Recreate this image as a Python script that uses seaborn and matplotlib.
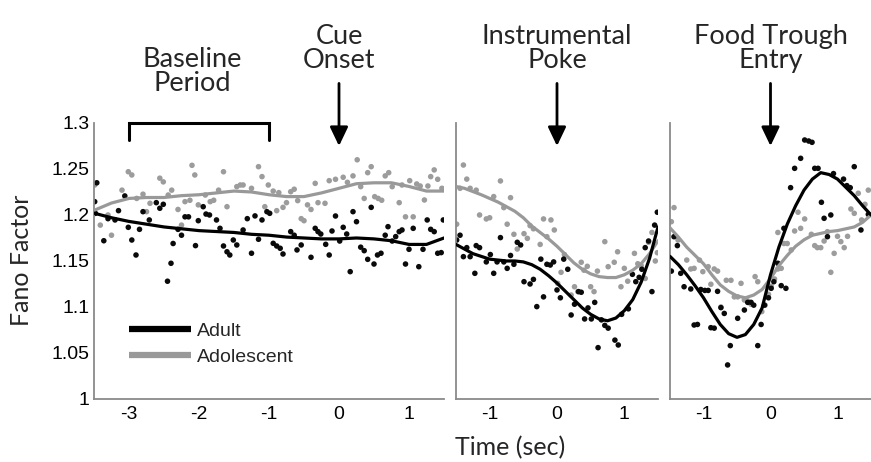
import numpy as np
import pandas as pd
import matplotlib
matplotlib.use("Agg")
import matplotlib.pyplot as plt
import seaborn as sns
from matplotlib.lines import Line2D

# ---------------- data ----------------
groups = ["Adult", "Adolescent"]
event_labels = ["Cue\nOnset", "Instrumental\nPoke", "Food Trough\nEntry"]
baseline_label = "Baseline\nPeriod"
baseline_start, baseline_end = -3.0, -1.0
yticks = [1.0, 1.05, 1.1, 1.15, 1.2, 1.25, 1.3]
ytick_labels = ["1", "1.05", "1.1", "1.15", "1.2", "1.25", "1.3"]
p1_xticks = [-3, -2, -1, 0, 1]
p23_xticks = [-1, 0, 1]

# Panel 1 (cue onset)
p1_adult_t = [-3.49, -3.46, -3.48, -3.36, -3.30, -3.20, -3.15, -3.06, -3.01, -2.96, -2.90, -2.85,
              -2.80, -2.71, -2.61, -2.56, -2.51, -2.45, -2.40, -2.37, -2.30, -2.25, -2.20, -2.15,
              -2.05, -2.01, -1.94, -1.90, -1.85, -1.75, -1.70, -1.65, -1.60, -1.56, -1.51, -1.46,
              -1.37, -1.31, -1.25, -1.20, -1.15, -1.10, -1.03, -0.99,
              -0.94, -0.89, -0.84, -0.80, -0.69, -0.64, -0.60, -0.54, -0.40, -0.34, -0.30, -0.26,
              -0.19, -0.14, -0.10, -0.05, 0.01, 0.06, 0.11, 0.16, 0.20, 0.25, 0.31, 0.36, 0.41,
              0.46, 0.50, 0.55, 0.60, 0.66, 0.70, 0.76, 0.81, 0.86, 0.90, 0.95, 1.00, 1.06, 1.14,
              1.20, 1.26, 1.31, 1.36, 1.41, 1.46, 1.49]
p1_adult_ff = [1.2145, 1.235, 1.2018, 1.172, 1.196, 1.1946, 1.2047, 1.2207, 1.1866, 1.1728, 1.1565, 1.1844,
               1.2036, 1.1946, 1.2134, 1.2073, 1.2116, 1.128, 1.1475, 1.169, 1.1844, 1.178, 1.198, 1.198,
               1.1667, 1.1938, 1.209, 1.201, 1.200, 1.1946, 1.1855, 1.1663, 1.160, 1.1565, 1.1728, 1.1674,
               1.1837, 1.196, 1.1584, 1.199, 1.1736, 1.1946, 1.2036, 1.2018,
               1.1692, 1.1663, 1.1638, 1.1576, 1.1819, 1.178, 1.162, 1.1674, 1.154, 1.1855, 1.1819, 1.1793,
               1.1681, 1.1565, 1.1826, 1.1989, 1.1717, 1.1866, 1.1793, 1.1384, 1.2036, 1.1927, 1.165, 1.1612, 1.1518,
               1.2083, 1.1467, 1.1565, 1.1584, 1.178, 1.1873, 1.1717, 1.1765, 1.1819, 1.1837, 1.1467, 1.1627, 1.1855, 1.1438,
               1.1627, 1.1946, 1.1844, 1.1819, 1.1584, 1.1591, 1.1946]
p1_adol_t = [-3.49, -3.41, -3.30, -3.25, -3.10, -3.01, -2.96, -2.89, -2.80, -2.75, -2.70, -2.56,
             -2.51, -2.44, -2.39, -2.30, -2.25, -2.20, -2.13, -2.10, -2.06, -2.01, -1.91, -1.84,
             -1.79, -1.72, -1.65, -1.60, -1.46, -1.41, -1.37, -1.25, -1.15, -1.10, -1.06,
             -1.01, -0.94, -0.86, -0.89, -0.80, -0.75, -0.69, -0.64, -0.59, -0.54, -0.50, -0.45,
             -0.40, -0.34, -0.30, -0.20, -0.14, -0.05, 0.06, 0.12, 0.20, 0.26, 0.31, 0.36, 0.41,
             0.46, 0.51, 0.56, 0.61, 0.66, 0.71, 0.76, 0.86, 0.90, 0.95, 1.01, 1.06, 1.11, 1.16,
             1.22, 1.27, 1.31, 1.36, 1.41, 1.47, 1.49]
p1_adol_ff = [1.2326, 1.189, 1.200, 1.178, 1.227, 1.247, 1.2435, 1.218, 1.2226, 1.2036, 1.2127, 1.240,
              1.236, 1.2217, 1.227, 1.206, 1.189, 1.2145, 1.216, 1.254, 1.2435, 1.211, 1.2217, 1.2145,
              1.216, 1.227, 1.247, 1.209, 1.2308, 1.2326, 1.2326, 1.229, 1.2525, 1.2417, 1.209,
              1.2326, 1.226, 1.2243, 1.2047, 1.2083, 1.2134, 1.2253, 1.228, 1.2156, 1.196, 1.1938, 1.211,
              1.206, 1.2344, 1.2134, 1.2127, 1.2373, 1.2388, 1.241, 1.2355, 1.2425, 1.260, 1.2308, 1.218, 1.246,
              1.2525, 1.2199, 1.218, 1.216, 1.2425, 1.246, 1.2308, 1.2134, 1.2326, 1.198, 1.2373, 1.198, 1.2337, 1.2315,
              1.2163, 1.2315, 1.2417, 1.249, 1.2388, 1.229, 1.228]
p1_fit_t = [-3.5, -3.25, -3.0, -2.75, -2.5, -2.25, -2.0, -1.75, -1.5, -1.25, -1.0,
            -0.75, -0.5, -0.25, 0.0, 0.25, 0.5, 0.75, 1.0, 1.25, 1.5]
p1_adult_fit = [1.202, 1.197, 1.193, 1.190, 1.187, 1.185, 1.183, 1.182, 1.181, 1.179, 1.178,
                1.176, 1.175, 1.174, 1.174, 1.175, 1.174, 1.172, 1.168, 1.168, 1.175]
p1_adol_fit = [1.205, 1.213, 1.218, 1.219, 1.219, 1.221, 1.222, 1.224, 1.226, 1.225, 1.222,
               1.220, 1.220, 1.224, 1.229, 1.234, 1.235, 1.235, 1.231, 1.226, 1.226]

# Panel 2 (instrumental poke)
p2_adult_t = [-1.49, -1.44, -1.39, -1.34, -1.29, -1.22, -1.20, -1.15, -1.05, -0.99, -0.94, -0.89,
              -0.84, -0.79, -0.74, -0.69, -0.64, -0.59, -0.54, -0.49, -0.40, -0.35, -0.30, -0.24,
              -0.20, -0.15, -0.10, -0.05, 0.00, 0.05, 0.10, 0.16, 0.21, 0.26, 0.32, 0.36, 0.41,
              0.46, 0.51, 0.56, 0.61, 0.66, 0.71, 0.76, 0.86, 0.91, 0.96, 1.06, 1.12, 1.17, 1.22,
              1.26, 1.31, 1.36, 1.41, 1.45, 1.49]
p2_adult_ff = [1.1728, 1.178, 1.1547, 1.1645, 1.1547, 1.1366, 1.1667, 1.1645, 1.149, 1.157, 1.1366, 1.149,
               1.1754, 1.149, 1.142, 1.156, 1.1464, 1.1703, 1.1674, 1.1275, 1.125, 1.130, 1.1004, 1.152,
               1.111, 1.1464, 1.1456, 1.149, 1.1185, 1.110, 1.152, 1.141, 1.0913, 1.103, 1.1167, 1.116, 1.087,
               1.099, 1.087, 1.105, 1.0558, 1.086, 1.080, 1.077, 1.064, 1.0587, 1.092, 1.098, 1.1355, 1.1275, 1.1322,
               1.141, 1.1645, 1.1717, 1.1167, 1.189, 1.203]
p2_adol_t = [-1.49, -1.44, -1.39, -1.34, -1.29, -1.20, -1.15, -1.05, -1.00, -0.94, -0.84, -0.79,
             -0.74, -0.69, -0.64, -0.59, -0.49, -0.44, -0.40, -0.35, -0.25, -0.20, -0.15, -0.09,
             -0.04, 0.01, 0.06, 0.11, 0.21, 0.26, 0.31, 0.36, 0.40, 0.45, 0.50, 0.55, 0.60, 0.71,
             0.76, 0.85, 0.90, 0.95, 1.00, 1.05, 1.15, 1.20, 1.25, 1.31, 1.36, 1.41, 1.46, 1.49]
p2_adol_ff = [1.19, 1.229, 1.2543, 1.239, 1.229, 1.227, 1.200, 1.1957, 1.197, 1.22, 1.237, 1.208,
              1.19, 1.2188, 1.179, 1.163, 1.1797, 1.1746, 1.1884, 1.185, 1.168, 1.1957, 1.1764, 1.1946,
              1.1837, 1.1257, 1.1377, 1.157, 1.113, 1.122, 1.1167, 1.1486, 1.140, 1.1442, 1.122, 1.1167, 1.139, 1.171,
              1.1438, 1.1486, 1.160, 1.122, 1.142, 1.128, 1.1583, 1.147, 1.145, 1.131, 1.1703, 1.181, 1.150, 1.159]
p23_fit_t = [-1.5, -1.375, -1.25, -1.125, -1.0, -0.875, -0.75, -0.625, -0.5, -0.375, -0.25, -0.125,
             0.0, 0.125, 0.25, 0.375, 0.5, 0.625, 0.75, 0.875, 1.0, 1.125, 1.25, 1.375, 1.5]
p2_adult_fit = [1.168, 1.163, 1.158, 1.155, 1.152, 1.151, 1.150, 1.150, 1.149, 1.146, 1.141, 1.134,
                1.126, 1.117, 1.108, 1.099, 1.092, 1.087, 1.085, 1.088, 1.096, 1.108, 1.127, 1.153, 1.187]
p2_adol_fit = [1.231, 1.229, 1.2255, 1.222, 1.218, 1.214, 1.209, 1.204, 1.197, 1.188, 1.181, 1.174,
               1.166, 1.157, 1.148, 1.141, 1.136, 1.133, 1.132, 1.132, 1.135, 1.140, 1.147, 1.158, 1.172]

# Panel 3 (food trough entry)
p3_adult_t = [-1.48, -1.44, -1.39, -1.34, -1.29, -1.19, -1.14, -1.09, -1.04, -0.98, -0.93, -0.89,
              -0.84, -0.79, -0.74, -0.69, -0.64, -0.60, -0.49, -0.39, -0.34, -0.29, -0.25, -0.19,
              -0.14, -0.09, -0.03, 0.01, 0.05, 0.11, 0.16, 0.23, 0.20, 0.30, 0.36, 0.45, 0.51,
              0.57, 0.62, 0.66, 0.71, 0.76, 0.80, 0.85, 0.90, 0.94, 1.09, 1.14, 1.19, 1.25, 1.35, 1.46]
p3_adult_ff = [1.139, 1.1764, 1.1667, 1.1366, 1.122, 1.1196, 1.0804, 1.081, 1.119, 1.118, 1.118, 1.0775,
               1.077, 1.117, 1.0993, 1.093, 1.037, 1.058, 1.0877, 1.0967, 1.105, 1.105, 1.102, 1.058,
               1.081, 1.102, 1.110, 1.1203, 1.1275, 1.1475, 1.1232, 1.1203, 1.1855, 1.2297, 1.2507, 1.2616, 1.2815,
               1.2804, 1.279, 1.2507, 1.2507, 1.2138, 1.1964, 1.1764, 1.2, 1.245, 1.239, 1.2319, 1.2297, 1.2525, 1.1837, 1.2007]
p3_adol_t = [-1.48, -1.44, -1.38, -1.25, -1.19, -1.14, -1.06, -1.01, -0.93, -0.89, -0.84, -0.79,
             -0.74, -0.66, -0.59, -0.54, -0.49, -0.44, -0.39, -0.34, -0.29, -0.23, -0.19, -0.13,
             -0.08, -0.03, 0.01, 0.06, 0.11, 0.16, 0.11, 0.20, 0.25, 0.31, 0.36, 0.41, 0.45, 0.51,
             0.61, 0.66, 0.70, 0.75, 0.80, 0.85, 0.90, 0.95, 1.00, 1.05, 1.10, 1.15, 1.20, 1.25,
             1.31, 1.36, 1.41, 1.46]
p3_adol_ff = [1.1927, 1.208, 1.1728, 1.151, 1.1413, 1.142, 1.151, 1.1384, 1.1438, 1.1247, 1.1413, 1.139,
              1.100, 1.129, 1.129, 1.111, 1.111, 1.1257, 1.1076, 1.1066, 1.1029, 1.133, 1.1275, 1.095,
              1.102, 1.1138, 1.1225, 1.1304, 1.1413, 1.142, 1.181, 1.169, 1.169, 1.162, 1.1826, 1.203, 1.1855, 1.1957,
              1.179, 1.1667, 1.1645, 1.1645, 1.1717, 1.1818, 1.1377, 1.1583, 1.1768, 1.171, 1.1645, 1.1768, 1.2065, 1.2018,
              1.2236, 1.1946, 1.2116, 1.227]
p3_adult_fit = [1.155, 1.146, 1.135, 1.123, 1.110, 1.095, 1.081, 1.071, 1.067, 1.070, 1.081, 1.099,
                1.135, 1.165, 1.190, 1.210, 1.227, 1.239, 1.246, 1.244, 1.239, 1.230, 1.221, 1.210, 1.200]
p3_adol_fit = [1.186, 1.176, 1.165, 1.156, 1.147, 1.135, 1.124, 1.117, 1.112, 1.110, 1.113, 1.119,
               1.131, 1.145, 1.156, 1.166, 1.173, 1.178, 1.180, 1.182, 1.183, 1.185, 1.187, 1.192, 1.200]

# ---------------- style ----------------
sns.set_style("white")
plt.rcParams["font.family"] = ["Liberation Sans", "DejaVu Sans"]
plt.rcParams["axes.unicode_minus"] = False

DOT = {"Adult": "#0a0a0a", "Adolescent": "#9c9c9c"}
LINE = {"Adult": "#000000", "Adolescent": "#999999"}
SPINE = "#8a8a8a"
TITLE_FONT = ["Lato", "DejaVu Sans"]

fig = plt.figure(figsize=(8.71, 4.62), dpi=100)
bottom, height = 0.1364, 0.5974
ax1 = fig.add_axes([94 / 871, bottom, 350 / 871, height])
ax2 = fig.add_axes([456 / 871, bottom, 202 / 871, height])
ax3 = fig.add_axes([670 / 871, bottom, 201 / 871, height])
axes = [ax1, ax2, ax3]


def draw_panel(ax, adult_t, adult_ff, adol_t, adol_ff, fit_t, adult_fit, adol_fit):
    pts = pd.concat([
        pd.DataFrame({"t": adol_t, "ff": adol_ff, "group": groups[1]}),
        pd.DataFrame({"t": adult_t, "ff": adult_ff, "group": groups[0]}),
    ], ignore_index=True)
    sns.scatterplot(data=pts, x="t", y="ff", hue="group", palette=DOT, s=16,
                    linewidth=0, legend=False, ax=ax, zorder=2)
    fits = pd.concat([
        pd.DataFrame({"t": fit_t, "ff": adol_fit, "group": groups[1]}),
        pd.DataFrame({"t": fit_t, "ff": adult_fit, "group": groups[0]}),
    ], ignore_index=True)
    sns.lineplot(data=fits, x="t", y="ff", hue="group", hue_order=[groups[1], groups[0]],
                 palette=LINE, estimator=None, lw=2.3, legend=False, ax=ax, zorder=3)


draw_panel(ax1, p1_adult_t, p1_adult_ff, p1_adol_t, p1_adol_ff, p1_fit_t, p1_adult_fit, p1_adol_fit)
draw_panel(ax2, p2_adult_t, p2_adult_ff, p2_adol_t, p2_adol_ff, p23_fit_t, p2_adult_fit, p2_adol_fit)
draw_panel(ax3, p3_adult_t, p3_adult_ff, p3_adol_t, p3_adol_ff, p23_fit_t, p3_adult_fit, p3_adol_fit)

for ax in axes:
    ax.set_ylim(yticks[0], yticks[-1])
    ax.set_yticks(yticks)
    ax.set_xlabel("")
    ax.set_ylabel("")
    for s in ["top", "right"]:
        ax.spines[s].set_visible(False)
    for s in ["left", "bottom"]:
        ax.spines[s].set_color(SPINE)
        ax.spines[s].set_linewidth(1.3)
    ax.tick_params(direction="in", length=4, width=1, color=SPINE, labelsize=14,
                   labelcolor="black")
    ax.tick_params(axis="x", pad=5)
    ax.tick_params(axis="y", pad=3)
    ax.set_facecolor("white")

ax1.set_xlim(-3.5, 1.5)
ax1.set_xticks(p1_xticks)
ax1.set_xticklabels([str(v) for v in p1_xticks])
ax1.set_yticklabels(ytick_labels)
for ax in (ax2, ax3):
    ax.set_xlim(-1.5, 1.5)
    ax.set_xticks(p23_xticks)
    ax.set_xticklabels([str(v) for v in p23_xticks])
    ax.set_yticklabels([])

# event arrows and labels
for ax, lab in zip(axes, event_labels):
    ax.annotate("", xy=(0, 1.275), xytext=(0, 1.343),
                arrowprops=dict(arrowstyle="-|>,head_width=0.55,head_length=1.15",
                                lw=2.0, color="black", shrinkA=0, shrinkB=0),
                annotation_clip=False)
    ax.text(0, 1.354, lab, ha="center", va="bottom", fontsize=19.5,
            family=TITLE_FONT, linespacing=0.95, clip_on=False)

# baseline bracket
ax1.plot([baseline_start, baseline_start, baseline_end, baseline_end],
         [1.282, 1.3, 1.3, 1.282], color="black", lw=2.2, clip_on=False,
         solid_joinstyle="miter")
ax1.text((baseline_start + baseline_end) / 2 - 0.1, 1.329, baseline_label, ha="center",
         va="bottom", fontsize=19.5, family=TITLE_FONT, linespacing=0.95, clip_on=False)

# legend
handles = [Line2D([], [], color=LINE[g], lw=4.5, solid_capstyle="butt") for g in groups]
ax1.legend(handles, groups, loc="lower left", bbox_to_anchor=(0.1, 0.12), frameon=False,
           fontsize=14, handlelength=3.2, handletextpad=0.3, labelspacing=0.45,
           borderpad=0, borderaxespad=0)

fig.text(0.5855, 0.005, "Time (sec)", ha="center", va="bottom", fontsize=18, family=TITLE_FONT)
fig.text(0.012, 0.437, "Fano Factor", ha="left", va="center", rotation=90, fontsize=18,
         family=TITLE_FONT)

fig.savefig("out.png", dpi=100, facecolor="white")
